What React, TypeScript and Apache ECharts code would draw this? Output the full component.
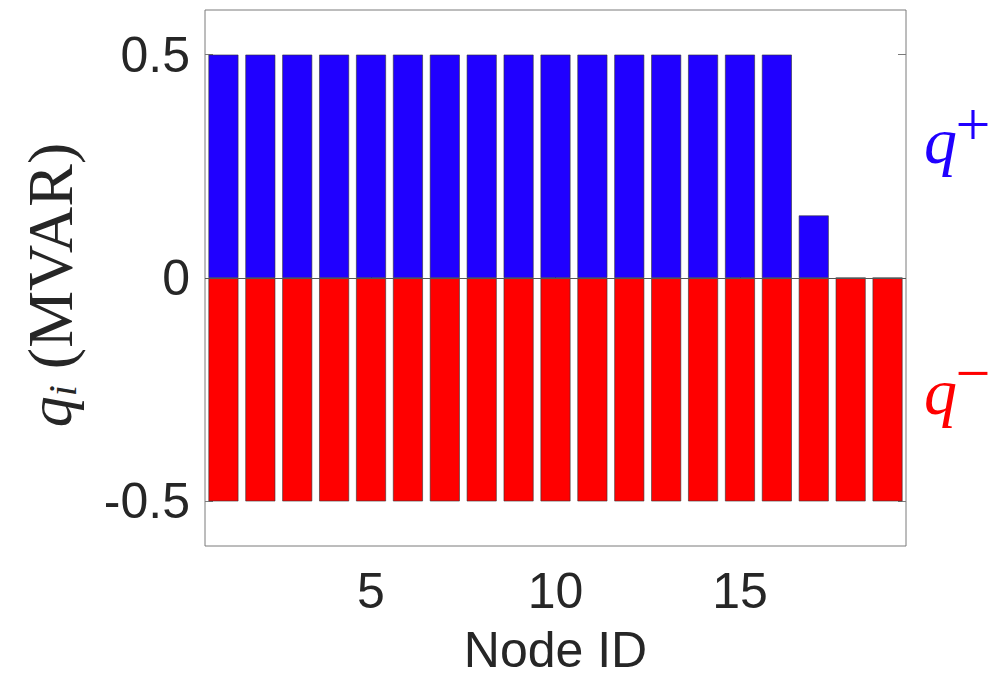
import React, { useEffect, useRef } from "react";
import * as echarts from "echarts";

const nodes = ["1","2","3","4","5","6","7","8","9","10","11","12","13","14","15","16","17","18","19"];
const qPlus = [0.5,0.5,0.5,0.5,0.5,0.5,0.5,0.5,0.5,0.5,0.5,0.5,0.5,0.5,0.5,0.5,0.14,0,0];
const qMinus = [-0.5,-0.5,-0.5,-0.5,-0.5,-0.5,-0.5,-0.5,-0.5,-0.5,-0.5,-0.5,-0.5,-0.5,-0.5,-0.5,-0.5,-0.5,-0.5];
const xTickLabels = ["5","10","15"];
const yTicks = [-0.5, 0, 0.5];

const BLUE = "#2000ff";
const RED = "#ff0000";
const AXIS = "#7a7a7a";
const SANS = "'Liberation Sans', Arial, Helvetica, sans-serif";
const SERIF = "'Liberation Serif', 'DejaVu Serif', serif";

export default function App() {
  const ref = useRef<HTMLDivElement>(null);
  useEffect(() => {
    if (!ref.current) return;
    const chart = echarts.init(ref.current, undefined, { renderer: "svg" });
    const showX = (idx: number, v: string) => xTickLabels.includes(String(v ?? nodes[idx]));
    const tickFn = (idx: number) => xTickLabels.includes(nodes[idx]);
    chart.setOption({
      animation: false,
      backgroundColor: "#ffffff",
      grid: {
        left: 205, top: 10, width: 701, height: 536,
        outerBoundsMode: "none", containLabel: false,
        show: true, borderColor: AXIS, borderWidth: 1, backgroundColor: "transparent",
      },
      xAxis: [
        {
          type: "category", data: nodes, position: "bottom",
          axisLine: { show: false },
          axisTick: { show: true, inside: true, length: 8, alignWithLabel: true, interval: tickFn, lineStyle: { color: AXIS } },
          axisLabel: { interval: showX, fontSize: 50, fontFamily: SANS, color: "#262626", margin: 20 },
          splitLine: { show: false },
          name: "Node ID", nameLocation: "middle", nameGap: 104,
          nameTextStyle: { fontSize: 50, lineHeight: 44, verticalAlign: "middle", fontFamily: SANS, color: "#262626" },
        },
        {
          type: "category", data: nodes, position: "top",
          axisLine: { show: false },
          axisTick: { show: true, inside: true, length: 8, alignWithLabel: true, interval: tickFn, lineStyle: { color: AXIS } },
          axisLabel: { show: false },
        },
      ],
      yAxis: [
        {
          type: "value", min: -0.6, max: 0.6, position: "left",
          axisLine: { show: false },
          axisTick: { show: true, inside: true, length: 8, customValues: yTicks, lineStyle: { color: AXIS } },
          axisLabel: { customValues: yTicks, fontSize: 50, fontFamily: SANS, color: "#262626", margin: 15,
            formatter: (v: number) => (v === 0 ? "0" : String(v)) },
          splitLine: { show: false },
        },
        {
          type: "value", min: -0.6, max: 0.6, position: "right",
          axisLine: { show: false },
          axisTick: { show: true, inside: true, length: 8, customValues: yTicks, lineStyle: { color: AXIS } },
          axisLabel: { show: false },
          splitLine: { show: false },
        },
      ],
      series: [
        {
          type: "bar", name: "q+", data: qPlus, xAxisIndex: 0, yAxisIndex: 0,
          barGap: "-100%", barCategoryGap: "19%",
          itemStyle: { color: BLUE, borderColor: "#333333", borderWidth: 0.6 },
          markLine: {
            silent: true, symbol: "none", label: { show: false },
            lineStyle: { color: "#555555", width: 1, type: "solid" },
            data: [{ yAxis: 0 }],
          },
        },
        {
          type: "bar", name: "q-", data: qMinus, xAxisIndex: 0, yAxisIndex: 0,
          barGap: "-100%", barCategoryGap: "19%",
          itemStyle: { color: RED, borderColor: "#333333", borderWidth: 0.6 },
        },
      ],
      graphic: [
        {
          type: "text", x: 50, y: 285, rotation: Math.PI / 2,
          style: {
            text: "{q|q}{i|i}{p| (MVAR)}",
            align: "center", verticalAlign: "middle",
            rich: {
              q: { fontSize: 62, fontStyle: "italic", fontFamily: SERIF, fill: "#262626" },
              i: { fontSize: 40, fontStyle: "italic", fontFamily: SERIF, fill: "#262626", verticalAlign: "bottom", padding: [18, 0, 0, 0] },
              p: { fontSize: 64, fontFamily: SERIF, fill: "#262626" },
            },
          },
        },
        {
          type: "text", x: 924, y: 140,
          style: { text: "q", align: "left", verticalAlign: "middle", fontSize: 66, fontStyle: "italic", fontFamily: SERIF, fill: BLUE },
        },
        {
          type: "text", x: 973, y: 124,
          style: { text: "+", align: "center", verticalAlign: "middle", fontSize: 62, fontFamily: SERIF, fill: BLUE },
        },
        {
          type: "text", x: 924, y: 391,
          style: { text: "q", align: "left", verticalAlign: "middle", fontSize: 66, fontStyle: "italic", fontFamily: SERIF, fill: RED },
        },
        {
          type: "text", x: 973, y: 373,
          style: { text: "\u2212", align: "center", verticalAlign: "middle", fontSize: 62, fontFamily: SERIF, fill: RED },
        },
      ],
    });
    return () => chart.dispose();
  }, []);
  return <div ref={ref} style={{ width: 999, height: 682, position: "absolute", left: 0, top: 0 }} />;
}
